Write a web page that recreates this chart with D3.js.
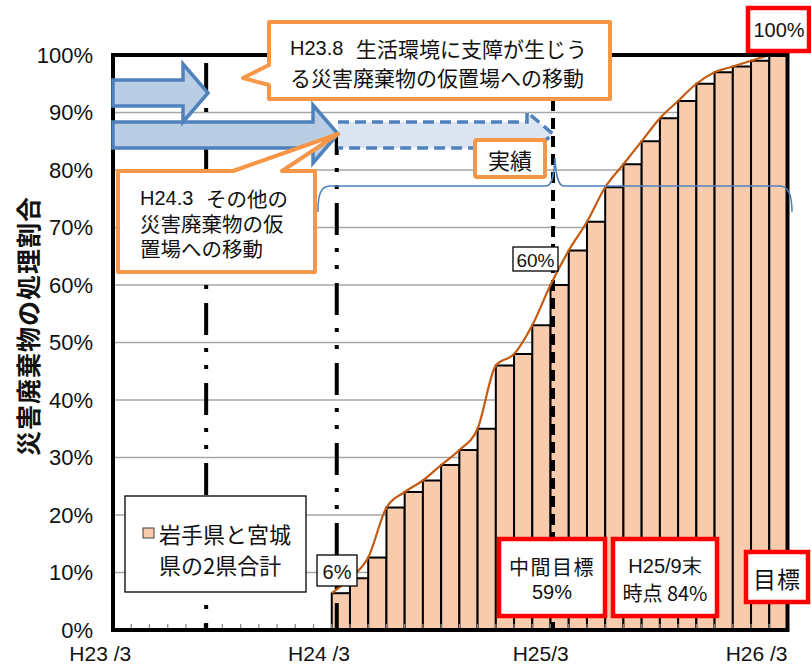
<!DOCTYPE html>
<html>
<head>
<meta charset="utf-8">
<script src="https://cdn.jsdelivr.net/npm/d3@7"></script>
<style>
body { margin: 0; background: #fff; }
text { font-family: "Noto Sans CJK JP", sans-serif; fill: #111; }
.num { font-family: "Liberation Sans Narrow", "Liberation Sans", sans-serif; }
.lat { font-family: "Liberation Sans", sans-serif; }
</style>
</head>
<body>
<svg id="vis" width="811" height="664"></svg>
<script>
// monthly categories, H23/3 .. H26/3
var months = [
	"H23/3", "H23/4", "H23/5", "H23/6", "H23/7", "H23/8", "H23/9", "H23/10", "H23/11", "H23/12",
	"H24/1", "H24/2", "H24/3", "H24/4", "H24/5", "H24/6", "H24/7", "H24/8", "H24/9", "H24/10",
	"H24/11", "H24/12", "H25/1", "H25/2", "H25/3", "H25/4", "H25/5", "H25/6", "H25/7", "H25/8",
	"H25/9", "H25/10", "H25/11", "H25/12", "H26/1", "H26/2", "H26/3"
];

// bars start at H24/3
var barMonths = months.slice(12);
var barValues = [6.4, 9, 12.6, 21.3, 24, 26, 28.7, 31.3, 35, 46, 48, 53, 60,
	66, 71, 77, 81, 85, 89, 92, 95, 97, 98, 99, 100];

var yTicks = [0, 10, 20, 30, 40, 50, 60, 70, 80, 90, 100];
var xLabelMonths = ["H23/3", "H24/3", "H25/3", "H26/3"];
var xLabelTexts  = ["H23 /3", "H24 /3", "H25/3", "H26 /3"];

var yTitle = "災害廃棄物の処理割合";
var legendLines = ["岩手県と宮城", "県の2県合計"];

var plotLeft = 113, plotRight = 787.5, plotTop = 55, plotBottom = 630;

var x = d3.scaleBand()
	.domain(months)
	.range([plotLeft, plotRight])
	.padding(0);

var y = d3.scaleLinear()
	.domain([0, 100])
	.range([plotBottom, plotTop]);

var svg = d3.select('#vis');
var bw = x.bandwidth();

// gridlines
svg.append('g')
	.selectAll('line')
	.data(yTicks.filter(function (d) { return d > 0 && d < 100; }))
	.enter().append('line')
	.attr('x1', plotLeft).attr('x2', plotRight)
	.attr('y1', function (d) { return y(d); })
	.attr('y2', function (d) { return y(d); })
	.attr('stroke', '#a6a6a6')
	.attr('stroke-width', 1.3);

// bars
var bars = barMonths.map(function (m, i) { return { month: m, value: barValues[i] }; });

svg.append('g')
	.selectAll('.bar')
	.data(bars)
	.enter().append('rect')
	.attr('class', 'bar')
	.attr('x', function (d) { return x(d.month); })
	.attr('y', function (d) { return y(d.value); })
	.attr('width', bw)
	.attr('height', function (d) { return y(0) - y(d.value); })
	.attr('fill', '#f8cbad')
	.attr('stroke', '#000')
	.attr('stroke-width', 2);

// small ticks on the bottom edge
svg.append('g')
	.selectAll('line')
	.data(months)
	.enter().append('line')
	.attr('x1', function (d) { return x(d); })
	.attr('x2', function (d) { return x(d); })
	.attr('y1', plotBottom)
	.attr('y2', plotBottom - 6)
	.attr('stroke', '#8c8c8c')
	.attr('stroke-width', 1.3);

// vertical marker lines
var vlines = [
	{ month: "H23/8", off: 2, y0: y(100), dash: "32,13,4,13,4,14", dashOff: 72 },
	{ month: "H24/3", off: 5, y0: 133, dash: "32,13,4,13,4,14", dashOff: 10 },
	{ month: "H25/3", off: 2.5, y0: 100, dash: "11,7", dashOff: 0 }
];
svg.append('g')
	.selectAll('line')
	.data(vlines)
	.enter().append('line')
	.attr('x1', function (d) { return x(d.month) + d.off; })
	.attr('x2', function (d) { return x(d.month) + d.off; })
	.attr('y1', function (d) { return d.y0; })
	.attr('y2', plotBottom)
	.attr('stroke', '#000')
	.attr('stroke-width', 4)
	.attr('stroke-dasharray', function (d) { return d.dash; })
	.attr('stroke-dashoffset', function (d) { return d.dashOff; });

// smoothed trend line through bar tops
var line = d3.line()
	.x(function (d) { return x(d.month); })
	.y(function (d) { return y(d.value); })
	.curve(d3.curveMonotoneX);

svg.append('path')
	.datum(bars)
	.attr('d', line)
	.attr('fill', 'none')
	.attr('stroke', '#c55a11')
	.attr('stroke-width', 2.2);

// plot frame
svg.append('rect')
	.attr('x', plotLeft).attr('y', y(100))
	.attr('width', plotRight - plotLeft).attr('height', y(0) - y(100))
	.attr('fill', 'none')
	.attr('stroke', '#000')
	.attr('stroke-width', 4);

// y axis
var yAxis = svg.append('g')
	.attr('transform', 'translate(' + plotLeft + ',0)')
	.call(d3.axisLeft(y).tickValues(yTicks).tickSize(0).tickPadding(20)
		.tickFormat(function (d) { return d + '%'; }));
yAxis.select('.domain').remove();
yAxis.selectAll('text')
	.attr('class', 'num')
	.style('font-size', '22px')
	.attr('fill', '#111');

// x labels
svg.append('g')
	.selectAll('text')
	.data(xLabelMonths)
	.enter().append('text')
	.attr('class', 'num')
	.attr('x', function (d) { return x(d) + bw; })
	.attr('y', 653)
	.attr('text-anchor', 'end')
	.attr('dominant-baseline', 'central')
	.style('font-size', '21px')
	.text(function (d, i) { return xLabelTexts[i]; });

// y title
svg.append('text')
	.attr('transform', 'translate(27,326) rotate(-90)')
	.attr('text-anchor', 'middle')
	.attr('dominant-baseline', 'central')
	.style('font-size', '25px')
	.style('font-weight', 'bold')
	.style('letter-spacing', '1px')
	.text(yTitle);

// block arrows
var arrowStroke = '#4f81bd';
svg.append('path')
	.attr('d', 'M338,122 L527,122 L527,112 L553,134 L527,156 L527,148 L338,148')
	.attr('fill', '#dce6f2')
	.attr('stroke', arrowStroke)
	.attr('stroke-width', 3.5)
	.attr('stroke-dasharray', '11,6');

svg.append('path')
	.attr('d', 'M113,122 L313,122 L313,105 L338,134 L313,163 L313,148 L113,148 Z')
	.attr('fill', '#b9cde5')
	.attr('stroke', arrowStroke)
	.attr('stroke-width', 3.5);

svg.append('path')
	.attr('d', 'M113,80 L183,80 L183,64 L208,93 L183,122 L183,106 L113,106 Z')
	.attr('fill', '#b9cde5')
	.attr('stroke', arrowStroke)
	.attr('stroke-width', 3.5);

// brace over the actual period
svg.append('path')
	.attr('d', 'M318,212 C318,196 320,186 330,186 L546,186 C552,186 554,176 555,158 C556,176 558,186 564,186 L780,186 C788,186 792,194 792,212')
	.attr('fill', 'none')
	.attr('stroke', arrowStroke)
	.attr('stroke-width', 1.5);

// orange callouts
var orange = '#f79646';
svg.append('path')
	.attr('d', 'M269,22 H610 V99 H269 V85 L243,78 L269,65 Z')
	.attr('fill', '#fff').attr('stroke', orange)
	.attr('stroke-width', 4).attr('stroke-linejoin', 'round');

svg.append('path')
	.attr('d', 'M118,171 H233 L338,134 L282,171 H315 V272 H118 Z')
	.attr('fill', '#fff').attr('stroke', orange)
	.attr('stroke-width', 4).attr('stroke-linejoin', 'round');

svg.append('rect')
	.attr('x', 475).attr('y', 140).attr('width', 70).attr('height', 37)
	.attr('rx', 2)
	.attr('fill', '#fff').attr('stroke', orange).attr('stroke-width', 4);

function label(xp, yp, str, size, cls, anchor) {
	return svg.append('text')
		.attr('class', cls || null)
		.attr('x', xp).attr('y', yp)
		.attr('text-anchor', anchor || 'start')
		.attr('dominant-baseline', 'central')
		.style('font-size', size + 'px')
		.text(str);
}

label(290, 48, 'H23.8', 20, 'lat');
label(356, 48, '生活環境に支障が生じう', 21);
label(290, 77, 'る災害廃棄物の仮置場への移動', 21);

label(140, 198, 'H24.3', 20, 'lat');
label(206, 198, 'その他の', 20.5);
label(140, 223, '災害廃棄物の仮', 20.5);
label(140, 248, '置場への移動', 20.5);

label(510, 159, '実績', 22, null, 'middle');

// data labels with black frame
function boxLabel(x0, y0, w, h, str, size) {
	svg.append('rect')
		.attr('x', x0).attr('y', y0).attr('width', w).attr('height', h)
		.attr('fill', '#fff').attr('stroke', '#000').attr('stroke-width', 1.3);
	label(x0 + w / 2, y0 + h / 2 + 1, str, size, 'num', 'middle');
}
boxLabel(317, 555, 40, 31, '6%', 20);
boxLabel(513, 247, 45, 24, '60%', 19);

// red frames
function redBox(x0, y0, w, h) {
	svg.append('rect')
		.attr('x', x0).attr('y', y0).attr('width', w).attr('height', h)
		.attr('fill', '#fff').attr('stroke', '#ff0000').attr('stroke-width', 4.5);
}
redBox(748, 8, 61, 43);
label(779, 30, '100%', 20, 'num', 'middle');

redBox(499, 539, 106, 77);
label(552, 566, '中間目標', 20, null, 'middle').style('letter-spacing', '1.5px');
label(552, 592, '59%', 20, 'lat', 'middle');

redBox(613, 539, 104, 77);
label(665, 566, 'H25/9末', 20, 'lat', 'middle');
label(665, 592, '時点 84%', 20, null, 'middle');

redBox(746, 552, 62, 50);
label(777, 578, '目標', 23, null, 'middle').style('letter-spacing', '1px');

// legend
svg.append('rect')
	.attr('x', 125).attr('y', 496).attr('width', 181).attr('height', 96)
	.attr('fill', '#fff').attr('stroke', '#000').attr('stroke-width', 1.3);
svg.append('rect')
	.attr('x', 143).attr('y', 528).attr('width', 11).attr('height', 10)
	.attr('fill', '#f8cbad').attr('stroke', '#404040').attr('stroke-width', 1);
label(159, 533, legendLines[0], 22);
label(159, 564, legendLines[1], 22);
</script>
</body>
</html>
